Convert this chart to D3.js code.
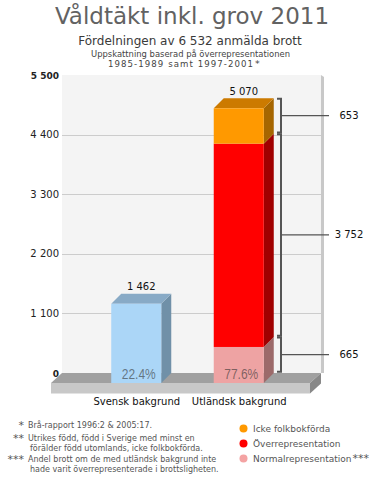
<!DOCTYPE html>
<html><head><meta charset="utf-8">
<script src="https://cdn.jsdelivr.net/npm/d3@7"></script>
<style>
html,body{margin:0;padding:0;background:#fff;}
text{font-family:"DejaVu Sans",Verdana,sans-serif;}
</style></head>
<body><div id="chart"></div>
<script>
// ---- data ----
const titleText = "Våldtäkt inkl. grov 2011";
const subtitleText = "Fördelningen av 6 532 anmälda brott";
const noteLines = ["Uppskattning baserad på överrepresentationen", "1985-1989 samt 1997-2001"];
const categories = ["Svensk bakgrund", "Utländsk bakgrund"];
const svenskValues = [1462];
const utlandskSegments = ["Normalrepresentation", "Överrepresentation", "Icke folkbokförda"];
const utlandskValues = [665, 3752, 653];
const totalLabels = ["1 462", "5 070"];
const percentLabels = ["22.4%", "77.6%"];
const segmentLabels = ["665", "3 752", "653"];
const yTicks = [0, 1100, 2200, 3300, 4400, 5500];
const yTickLabels = ["0", "1 100", "2 200", "3 300", "4 400", "5 500"];
const legendNames = ["Icke folkbokförda", "Överrepresentation", "Normalrepresentation"];
const footnoteMarks = ["*", "**", "***"];
const footnoteLines = [
  ["Brå-rapport 1996:2 & 2005:17."],
  ["Utrikes född, född i Sverige med minst en", "förälder född utomlands, icke folkbokförda."],
  ["Andel brott om de med utländsk bakgrund inte", "hade varit överrepresenterade i brottsligheten."]
];

// ---- styles ----
const segColors = {
  "Normalrepresentation": {front:"#eea3a3", side:"#9c6a6a", top:"#c98a8a"},
  "Överrepresentation": {front:"#ff0000", side:"#a00000", top:"#cc0000"},
  "Icke folkbokförda": {front:"#ff9900", side:"#a66600", top:"#cc7a00"}
};
const blue = {front:"#abd6f7", side:"#7090a8", top:"#88aac6"};
const legendColors = {"Icke folkbokförda":"#ff9900","Överrepresentation":"#ff0000","Normalrepresentation":"#f4a3a3"};

const W = 382, H = 478, depth = 10;
const svg = d3.select("#chart").append("svg").attr("width", W).attr("height", H);
svg.append("rect").attr("width", W).attr("height", H).attr("fill", "#fff");

const y = d3.scaleLinear().domain([0, 5500]).range([373, 75]);
const yF = v => y(v) + depth;
const x = d3.scaleBand().domain(categories).range([85, 290]).paddingInner(0.512).paddingOuter(0.256);
const wallX0 = 62, wallX1 = 321;

// titles
svg.append("text").attr("x", 192).attr("y", 24).attr("text-anchor", "middle")
  .attr("font-size", 23).attr("fill", "#626262").text(titleText);
svg.append("text").attr("x", 190).attr("y", 45).attr("text-anchor", "middle")
  .attr("font-size", 12).attr("fill", "#3a3a3a").text(subtitleText);
svg.append("text").attr("x", 190.5).attr("y", 56.5).attr("text-anchor", "middle")
  .attr("font-size", 8.6).attr("fill", "#444").attr("textLength", 199).attr("lengthAdjust", "spacingAndGlyphs").text(noteLines[0]);
svg.append("text").attr("x", 108).attr("y", 66.5).attr("font-size", 8.6).attr("fill", "#444")
  .attr("textLength", 145).attr("lengthAdjust", "spacing").text(noteLines[1]);
svg.append("text").attr("x", 255).attr("y", 67).attr("font-size", 9.5).attr("fill", "#444").text("*");

// wall
svg.append("rect").attr("x", wallX0).attr("y", y(5500)).attr("width", wallX1 - wallX0)
  .attr("height", y(0) - y(5500)).attr("fill", "#f4f4f4");
svg.append("polygon").attr("points", [[wallX1, y(5500)], [wallX1 + 3, y(5500) + 2], [wallX1 + 3, y(0)], [wallX1, y(0)]].join(" "))
  .attr("fill", "#c8c8c8");

// gridlines
svg.append("g").selectAll("line").data(yTicks.filter(t => t > 0 && t < 5500)).join("line")
  .attr("x1", wallX0).attr("x2", wallX1).attr("y1", d => Math.round(y(d)) + 0.5).attr("y2", d => Math.round(y(d)) + 0.5)
  .attr("stroke", "#cccccc").attr("stroke-width", 1);

// y tick labels
svg.append("g").selectAll("text").data(yTicks).join("text")
  .attr("x", 59).attr("y", d => y(d) + 3.5).attr("text-anchor", "end")
  .attr("font-size", (d, i) => (i === 0 || i === yTicks.length - 1) ? 9 : 10)
  .attr("font-weight", (d, i) => (i === 0 || i === yTicks.length - 1) ? "bold" : "normal")
  .attr("fill", "#222").text((d, i) => yTickLabels[i]);

// floor
const fx0 = wallX0 - depth - 1, fx1 = wallX1 - depth - 1, fh = 10.5;
svg.append("polygon").attr("points", [[wallX0, y(0)], [wallX1, y(0)], [fx1, yF(0)], [fx0, yF(0)]].join(" ")).attr("fill", "#a0a0a0");
svg.append("rect").attr("x", fx0).attr("y", yF(0)).attr("width", fx1 - fx0).attr("height", fh).attr("fill", "#c8c8c8");
svg.append("polygon").attr("points", [[fx1, yF(0)], [wallX1, y(0)], [wallX1, y(0) + fh], [fx1, yF(0) + fh]].join(" ")).attr("fill", "#888888");

// 3D bar segment
function seg(g, x0, w, v0, v1, col, withTop) {
  const x1 = x0 + w;
  g.append("polygon").attr("points", [[x1, yF(v1)], [x1 + depth, y(v1)], [x1 + depth, y(v0)], [x1, yF(v0)]].join(" ")).attr("fill", col.side);
  if (withTop) g.append("polygon").attr("points", [[x0, yF(v1)], [x0 + depth, y(v1)], [x1 + depth, y(v1)], [x1, yF(v1)]].join(" ")).attr("fill", col.top);
  g.append("rect").attr("x", x0).attr("y", yF(v1)).attr("width", w).attr("height", yF(v0) - yF(v1)).attr("fill", col.front);
}
const bars = svg.append("g");
const bw = x.bandwidth();
seg(bars, x(categories[0]), bw, 0, svenskValues[0], blue, true);
const cum = d3.cumsum(utlandskValues);
utlandskValues.forEach((v, i) => {
  seg(bars, x(categories[1]), bw, cum[i] - v, cum[i], segColors[utlandskSegments[i]], i === utlandskValues.length - 1);
});
const totals = [svenskValues[0], cum[cum.length - 1]];

// total labels
svg.append("g").selectAll("text").data(categories).join("text")
  .attr("x", d => x(d) + bw / 2 + depth / 2).attr("y", (d, i) => y(totals[i]) - 3.5)
  .attr("text-anchor", "middle").attr("font-size", 10).attr("fill", "#111")
  .text((d, i) => totalLabels[i]);

// percent labels
svg.append("g").selectAll("text").data(categories).join("text")
  .attr("x", d => x(d) + bw / 2 + 2.5).attr("y", yF(0) - 4)
  .attr("text-anchor", "middle").attr("font-size", 14).attr("fill", "#333").attr("fill-opacity", 0.6)
  .style("font-family", "'Liberation Sans',Arial,sans-serif")
  .attr("textLength", 34).attr("lengthAdjust", "spacingAndGlyphs")
  .text((d, i) => percentLabels[i]);

// category labels
svg.append("g").selectAll("text").data(categories).join("text")
  .attr("x", d => x(d) + bw / 2 + 0.5).attr("y", 404.5)
  .attr("text-anchor", "middle").attr("font-size", 10).attr("fill", "#111").text(d => d);

// brackets
const bx = 281;
const br = svg.append("g");
utlandskValues.forEach((v, i) => {
  const top = y(cum[i]) + 0.5, bot = y(cum[i] - v) - 1.2;
  br.append("path").attr("d", `M${bx - 4},${top} H${bx} V${bot} H${bx - 4}`)
    .attr("fill", "none").attr("stroke", "#555").attr("stroke-width", 2);
  const mid = (top + bot) / 2;
  br.append("line").attr("x1", bx).attr("x2", 329).attr("y1", mid).attr("y2", mid)
    .attr("stroke", "#555").attr("stroke-width", 1.3);
  br.append("text").attr("x", 349).attr("y", mid + 3.5).attr("text-anchor", "middle")
    .attr("font-size", 10).attr("fill", "#111").text(segmentLabels[i]);
});

// footnotes
const fnY = [[428, null], [441, 451], [462, 472]];
const fn = svg.append("g");
footnoteLines.forEach((lines, i) => {
  fn.append("text").attr("x", 24).attr("y", fnY[i][0] + 0.5).attr("text-anchor", "end")
    .attr("font-size", 11).attr("fill", "#555").text(footnoteMarks[i]);
  lines.forEach((t, j) => {
    fn.append("text").attr("x", j === 0 ? 28 : 30).attr("y", fnY[i][j])
      .attr("font-size", 8).attr("fill", "#555").text(t);
  });
});

// legend
const lg = svg.append("g");
legendNames.forEach((n, i) => {
  const cy = 428.5 + i * 15;
  lg.append("circle").attr("cx", 243.5).attr("cy", cy).attr("r", 4).attr("fill", legendColors[n]);
  const t = lg.append("text").attr("x", 253).attr("y", cy + 3.2).attr("font-size", 9).attr("fill", "#555");
  t.append("tspan").text(n);
  if (n === "Normalrepresentation") t.append("tspan").attr("dx", 1).attr("font-size", 11).text("***");
});
</script>
</body></html>
